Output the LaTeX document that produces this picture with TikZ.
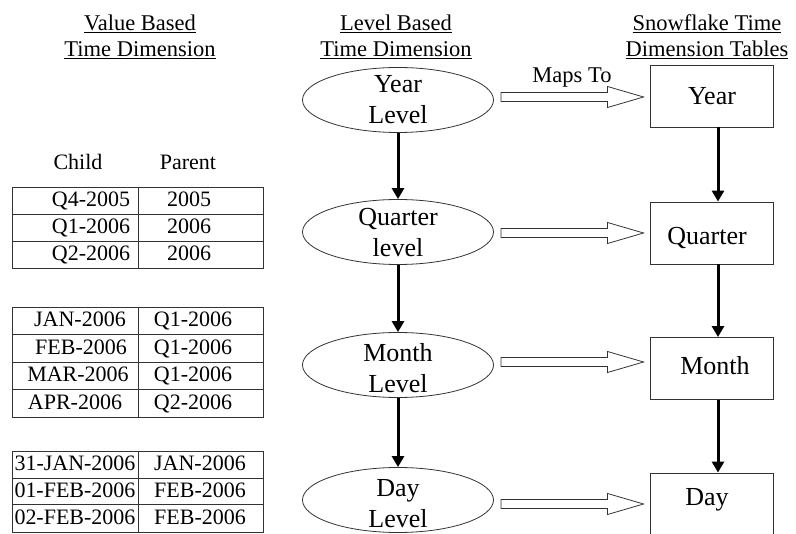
\documentclass[tikz,border=0pt]{standalone}
\usepackage{fontspec}
\setmainfont{Liberation Serif}
\usetikzlibrary{shapes.geometric,arrows.meta,calc}
\tikzset{
  hdr/.style={font=\fontsize{22.5}{26}\selectfont, align=center, inner sep=0pt},
  lvl/.style={draw=black!80, line width=0.8pt, ellipse, minimum width=191pt, minimum height=65pt, inner sep=0pt},
  lvltext/.style={font=\fontsize{26}{31}\selectfont, align=center, inner sep=0pt},
  tbl/.style={draw=black!80, line width=0.9pt, minimum width=123pt, minimum height=62pt, inner sep=0pt, font=\fontsize{26}{31}\selectfont},
  down/.style={line width=3pt, -{Triangle[length=11pt,width=12pt]}},
  hollow/.style={draw=black!80, line width=0.8pt, fill=white},
  cell/.style={font=\fontsize{22}{26}\selectfont, inner sep=0pt, anchor=base},
  grid/.style={draw=black!80, line width=0.9pt},
}
\newcommand\maparrow[3]{%
  \draw[hollow] ($(#1.east |- 0,#3)+(7,-4.5)$) -- ($(#2.west |- 0,#3)+(-42,-4.5)$)
    -- ++(0,-6) -- ($(#2.west |- 0,#3)+(-6,0)$) -- ($(#2.west |- 0,#3)+(-42,10.5)$)
    -- ++(0,-6) -- ($(#1.east |- 0,#3)+(7,4.5)$) -- cycle;}
\begin{document}
\begin{tikzpicture}[x=1pt,y=-1pt]
\useasboundingbox (0,0) rectangle (796,534);
% headers
\node[hdr] (h1) at (140,37) {\underline{Value Based}\\\underline{Time Dimension}};
\node[hdr] (h2) at (396,37) {\underline{Level Based}\\\underline{Time Dimension}};
\node[hdr] (h3) at (707,37) {\underline{Snowflake Time}\\\underline{Dimension Tables}};
% ellipses
\node[lvl] (yl) at (398,100) {};
\node[lvl] (ql) at (398,232) {};
\node[lvl] (ml) at (398,365) {};
\node[lvl] (dl) at (398,500) {};
\node[lvltext] (ylt) at (398,100) {Year\\Level};
\node[lvltext] (qlt) at (398,233) {Quarter\\level};
\node[lvltext] (mlt) at (398,368) {Month\\Level};
\node[lvltext] (dlt) at (398,504) {Day\\Level};
% boxes
\node[tbl] (yb) at (711.5,96) {};
\node[tbl] (qb) at (711.5,233) {};
\node[tbl] (mb) at (711.5,368.5) {};
\node[tbl] (db) at (711.5,504) {};
\node[font=\fontsize{26}{31}\selectfont, inner sep=0pt] (ybt) at (712,96) {Year};
\node[font=\fontsize{26}{31}\selectfont, inner sep=0pt] (qbt) at (707,238) {Quarter};
\node[font=\fontsize{26}{31}\selectfont, inner sep=0pt] (mbt) at (715,366) {Month};
\node[font=\fontsize{26}{31}\selectfont, inner sep=0pt] (dbt) at (707,500) {Day};
% vertical arrows
\draw[down] (yl.south -| 398,0) -- (ql.north -| 398,0);
\draw[down] (ql.south -| 398,0) -- (ml.north -| 398,0);
\draw[down] (ml.south -| 398,0) -- (dl.north -| 398,0);
\draw[down] (yb.south -| 718,0) -- (qb.north -| 718,0);
\draw[down] (qb.south -| 718,0) -- (mb.north -| 718,0);
\draw[down] (mb.south -| 718,0) -- (db.north -| 718,0);
% maps-to arrows
\maparrow{yl}{yb}{97}
\maparrow{ql}{qb}{233}
\maparrow{ml}{mb}{362}
\maparrow{dl}{db}{504}
\node[font=\fontsize{22.5}{26}\selectfont, inner sep=0pt, anchor=base] (maps) at (572,83) {Maps To};
% table 1
\node[cell] (child) at (78,170) {Child};
\node[cell] (parent) at (188,170) {Parent};
\draw[grid] (12,187) rectangle (263,268);
\draw[grid] (12,214) -- (263,214) (12,241) -- (263,241) (138,187) -- (138,268);
\node[cell] (a1) at (91,207) {Q4-2005};
\node[cell] (a2) at (91,234) {Q1-2006};
\node[cell] (a3) at (91,261) {Q2-2006};
\node[cell] (b1) at (189,207) {2005};
\node[cell] (b2) at (189,234) {2006};
\node[cell] (b3) at (189,261) {2006};
% table 2
\draw[grid] (12,307) rectangle (263,417);
\draw[grid] (12,334) -- (263,334) (12,362) -- (263,362) (12,389) -- (263,389) (138,307) -- (138,417);
\node[cell] (c1) at (80,327) {JAN-2006};
\node[cell] (c2) at (81,355) {FEB-2006};
\node[cell] (c3) at (78,382) {MAR-2006};
\node[cell] (c4) at (75,410) {APR-2006};
\node[cell] (d1) at (193,327) {Q1-2006};
\node[cell] (d2) at (193,355) {Q1-2006};
\node[cell] (d3) at (193,382) {Q1-2006};
\node[cell] (d4) at (193,410) {Q2-2006};
% table 3
\draw[grid] (12,451) rectangle (263,532);
\draw[grid] (12,478) -- (263,478) (12,504) -- (263,504) (138,451) -- (138,532);
\node[cell] (e1) at (75,471) {31-JAN-2006};
\node[cell] (e2) at (75,498) {01-FEB-2006};
\node[cell] (e3) at (75,525) {02-FEB-2006};
\node[cell] (f1) at (200,471) {JAN-2006};
\node[cell] (f2) at (200,498) {FEB-2006};
\node[cell] (f3) at (200,525) {FEB-2006};
\end{tikzpicture}
\end{document}
